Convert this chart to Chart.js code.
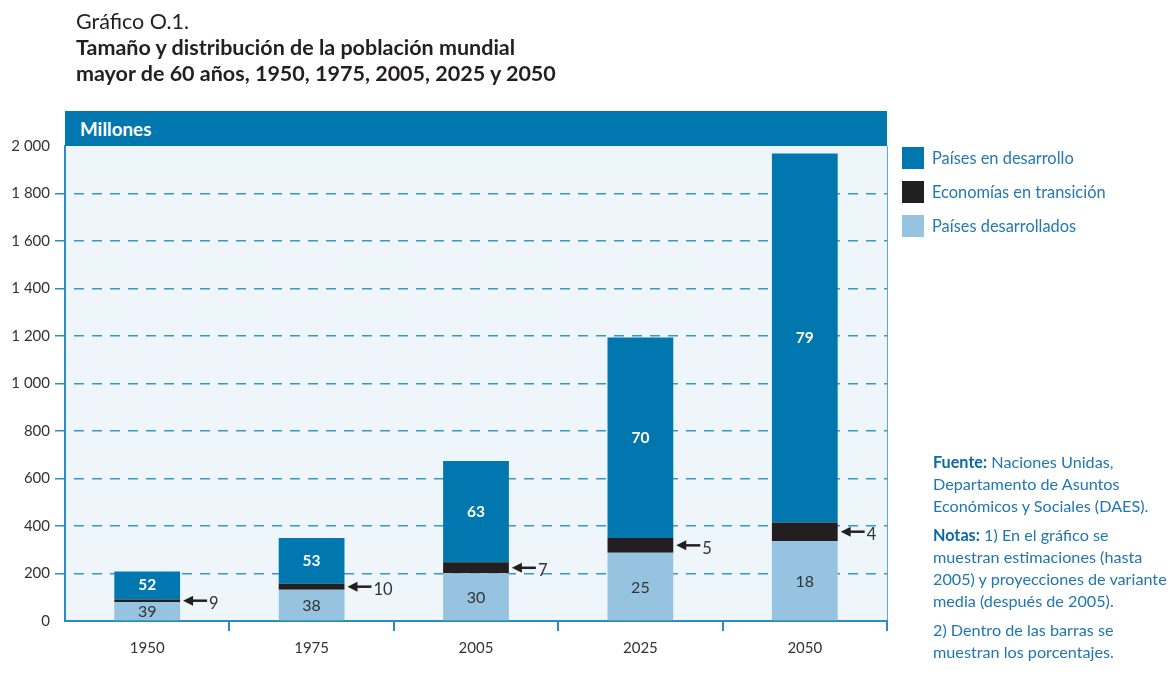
<!DOCTYPE html>
<html lang="es">
<head>
<meta charset="utf-8">
<title>Gráfico O.1.</title>
<script src="https://cdn.jsdelivr.net/npm/chart.js@4.4.1/dist/chart.umd.min.js"></script>
<style>
  html, body { margin: 0; padding: 0; background: #fff; }
  body { width: 1173px; height: 686px; position: relative; overflow: hidden; font-family: Lato, "Open Sans", sans-serif; color: #231f20; }
  #wrap { position: absolute; left: 0; top: 0; width: 1173px; height: 686px; }
  .title { position: absolute; left: 76px; top: 8px; font-size: 21.5px; line-height: 26px; white-space: nowrap; }
  .title b { font-weight: 700; }
  .header { position: absolute; left: 65px; top: 111px; width: 822px; height: 35px; background: #0077ae;
            color: #fff; font-weight: 700; font-size: 18.8px; line-height: 35px; padding-left: 15px; box-sizing: border-box; }
  .legend { position: absolute; left: 902px; top: 147px; color: #2378b5; font-size: 16.4px; }
  .legend div { height: 22px; line-height: 22px; margin-bottom: 12px; white-space: nowrap; }
  .legend span { display: inline-block; width: 22px; height: 22px; vertical-align: top; margin-right: 8px; }
  .notes { position: absolute; left: 933px; top: 451px; color: #1f76b0; font-size: 16.2px; line-height: 22px; white-space: nowrap; }
  .notes p { margin: 0 0 7px 0; }
  .notes b { color: #0d69a3; }
</style>
</head>
<body>
<div id="wrap"><canvas id="chart"></canvas></div>

<div class="title">Gráfico O.1.<br><b>Tamaño y distribución de la población mundial<br>mayor de 60 años, 1950, 1975, 2005, 2025 y 2050</b></div>
<div class="header">Millones</div>

<div class="legend">
  <div><span style="background:#0077ae"></span>Países en desarrollo</div>
  <div><span style="background:#231f20"></span>Economías en transición</div>
  <div><span style="background:#95c3e0"></span>Países desarrollados</div>
</div>

<div class="notes">
  <p><b>Fuente:</b> Naciones Unidas,<br>Departamento de Asuntos<br>Económicos y Sociales (DAES).</p>
  <p><b>Notas:</b> 1) En el gráfico se<br>muestran estimaciones (hasta<br>2005) y proyecciones de variante<br>media (después de 2005).</p>
  <p>2) Dentro de las barras se<br>muestran los porcentajes.</p>
</div>

<script>
const years = ['1950', '1975', '2005', '2025', '2050'];
// millones de personas de 60 años o más
const developedCountries = [80, 132, 201, 287, 337];
const transitionEconomies = [11, 25, 46, 63, 78];
const developingCountries = [117, 193, 427, 844, 1553];
// porcentajes que se escriben en las barras
const pctDeveloped = [39, 38, 30, 25, 18];
const pctTransition = [9, 10, 7, 5, 4];
const pctDeveloping = [52, 53, 63, 70, 79];
const yTicks = [0, 200, 400, 600, 800, 1000, 1200, 1400, 1600, 1800, 2000];

const BLUE = '#0077ae';
const BLACK = '#231f20';
const LIGHT = '#95c3e0';
const AXIS = '#2a8cc6';
const GRID = '#3797cc';
const TEXT = '#333333';
const FONT = 'Lato, "Open Sans", sans-serif';

const fmt = (v) => String(v).replace(/\B(?=(\d{3})+(?!\d))/g, ' ');

// fondo del área de trazado y borde derecho
const plotBackground = {
  id: 'plotBackground',
  beforeDraw(chart) {
    const { ctx, chartArea: a } = chart;
    ctx.save();
    ctx.fillStyle = '#eef5fb';
    ctx.fillRect(a.left, a.top, a.right - a.left, a.bottom - a.top);
    ctx.strokeStyle = '#5aa8d6';
    ctx.lineWidth = 1;
    ctx.beginPath();
    ctx.moveTo(a.right + 0.5, a.top);
    ctx.lineTo(a.right + 0.5, a.bottom);
    ctx.stroke();
    ctx.restore();
  }
};

// porcentajes dentro de las barras y flechas de las economías en transición
const barLabels = {
  id: 'barLabels',
  afterDatasetsDraw(chart) {
    const ctx = chart.ctx;
    const dev = chart.getDatasetMeta(0).data;
    const tr = chart.getDatasetMeta(1).data;
    const dg = chart.getDatasetMeta(2).data;
    ctx.save();
    ctx.textAlign = 'center';
    ctx.textBaseline = 'middle';
    years.forEach((yr, i) => {
      ctx.font = '700 15.5px ' + FONT;
      ctx.fillStyle = '#ffffff';
      ctx.fillText(pctDeveloping[i], dg[i].x, (dg[i].y + dg[i].base) / 2);

      ctx.font = '400 16px ' + FONT;
      ctx.fillStyle = TEXT;
      ctx.fillText(pctDeveloped[i], dev[i].x, (dev[i].y + dev[i].base) / 2 + 1);

      const x0 = tr[i].x + tr[i].width / 2 + 3;
      const yc = (tr[i].y + tr[i].base) / 2;
      ctx.fillStyle = BLACK;
      ctx.strokeStyle = BLACK;
      ctx.lineWidth = 2.5;
      ctx.beginPath();
      ctx.moveTo(x0 + 6, yc);
      ctx.lineTo(x0 + 24, yc);
      ctx.stroke();
      ctx.beginPath();
      ctx.moveTo(x0, yc);
      ctx.lineTo(x0 + 10, yc - 5);
      ctx.lineTo(x0 + 10, yc + 5);
      ctx.closePath();
      ctx.fill();

      ctx.font = '400 16.5px ' + FONT;
      ctx.fillStyle = TEXT;
      ctx.textAlign = 'left';
      ctx.fillText(pctTransition[i], x0 + 26, yc + 3);
      ctx.textAlign = 'center';
    });
    ctx.restore();
  }
};

new Chart(document.getElementById('chart'), {
  type: 'bar',
  data: {
    labels: years,
    datasets: [
      { label: 'Países desarrollados', data: developedCountries, backgroundColor: LIGHT },
      { label: 'Economías en transición', data: transitionEconomies, backgroundColor: BLACK },
      { label: 'Países en desarrollo', data: developingCountries, backgroundColor: BLUE }
    ]
  },
  options: {
    responsive: true,
    maintainAspectRatio: false,
    animation: false,
    datasets: { bar: { categoryPercentage: 1, barPercentage: 0.4, borderWidth: 0 } },
    layout: { padding: { top: 146, right: 286, bottom: 25, left: 0 } },
    plugins: { legend: { display: false }, tooltip: { enabled: false }, title: { display: false } },
    scales: {
      x: {
        stacked: true,
        afterFit: (s) => { s.height = 40; },
        grid: {
          offset: true,
          drawOnChartArea: false,
          tickLength: 10,
          lineWidth: 2,
          color: (c) => (c.index === 0 || c.index === years.length) ? 'transparent' : AXIS
        },
        border: { display: true, color: AXIS, width: 2 },
        ticks: { color: TEXT, font: { family: FONT, size: 15 }, padding: 8 }
      },
      y: {
        stacked: true,
        min: 0,
        max: 2000,
        afterFit: (s) => { s.width = 65; },
        afterBuildTicks: (s) => { s.ticks = yTicks.map((v) => ({ value: v })); },
        grid: {
          lineWidth: 1.5,
          tickLength: 10,
          color: (c) => (c.tick && (c.tick.value === 0 || c.tick.value === 2000)) ? 'transparent' : GRID,
          tickColor: (c) => (c.tick && (c.tick.value === 0 || c.tick.value === 2000)) ? 'transparent' : AXIS
        },
        border: { display: true, color: AXIS, width: 2, dash: [10, 8], dashOffset: 10 },
        ticks: { color: TEXT, font: { family: FONT, size: 15 }, padding: 5, callback: (v) => fmt(v) }
      }
    }
  },
  plugins: [plotBackground, barLabels]
});
</script>
</body>
</html>
